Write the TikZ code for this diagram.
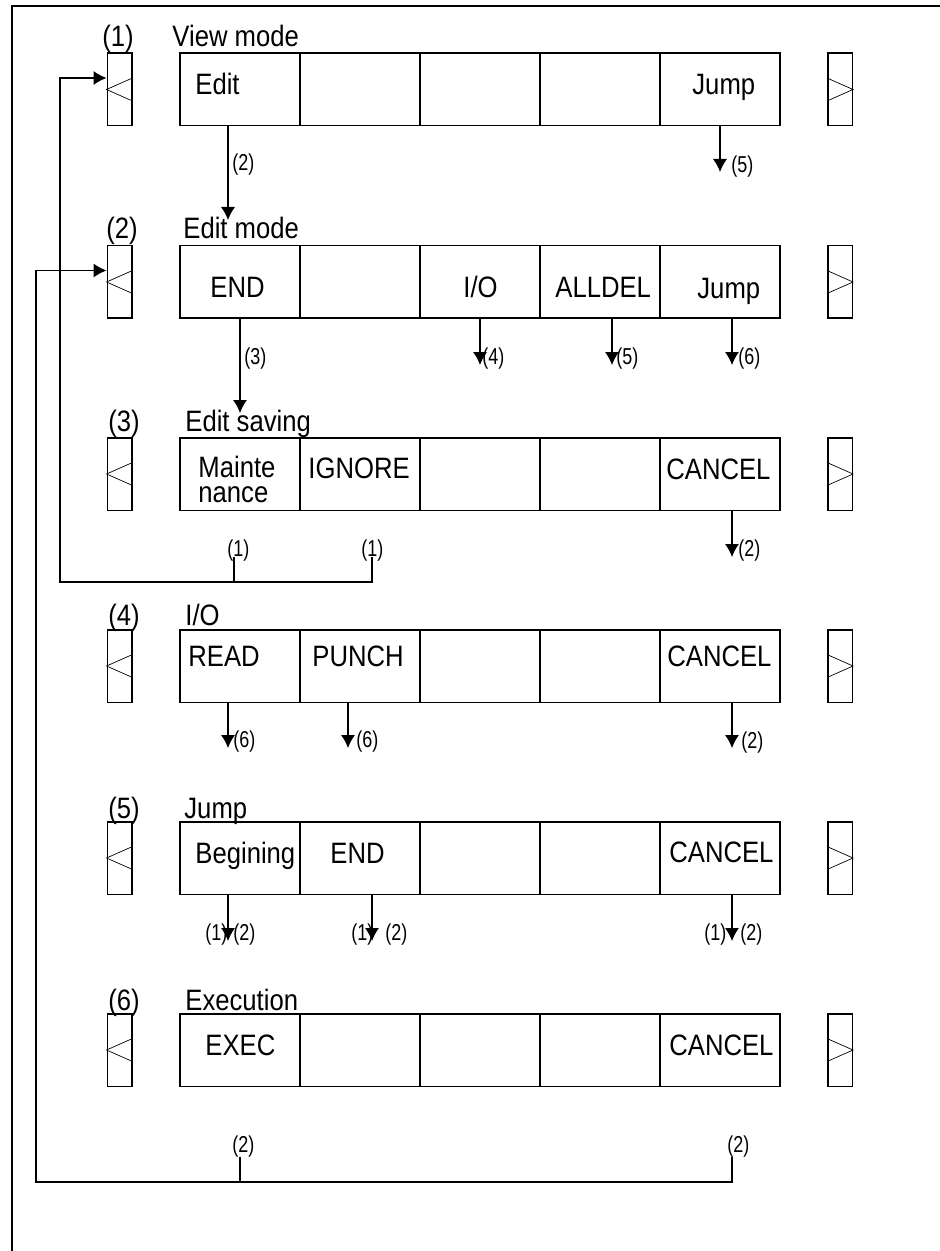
\documentclass[tikz,border=0pt]{standalone}
\usepackage{fontspec}
\setmainfont{Liberation Sans}
\newfontfamily\mainf{Liberation Sans}[FakeStretch=0.87]
\newfontfamily\smallf{Liberation Sans}[FakeStretch=0.78]
\usetikzlibrary{arrows.meta,calc}
\tikzset{
  cell/.style={draw,line width=0.75pt,minimum width=60pt,minimum height=36.25pt,inner sep=0pt},
  side/.style={draw,line width=0.75pt,minimum width=12.25pt,minimum height=36.25pt,inner sep=0pt},
  chev/.style={line width=0.35pt},
  frameline/.style={line width=0.7pt},
  conn/.style={line width=0.55pt},
  arr/.style={conn,-{Latex[length=6.5pt,width=7pt]}},
  txt/.style={font=\mainf\fontsize{14.75}{12.5}\selectfont,inner sep=0pt,anchor=base west,align=left},
  lbl/.style={font=\smallf\fontsize{11.5}{12}\selectfont,inner sep=0pt,anchor=west},
}
\begin{document}
\begin{tikzpicture}[x=0.5pt,y=-0.5pt]
\useasboundingbox (0,0) rectangle (939,1251);
\draw[frameline] (12,1270) -- (12,6) -- (960,6);

% rows of cells and side boxes
\foreach \r/\y in {1/89.5,2/282,3/474,4/666,5/858,6/1050} {
  \foreach \c in {1,...,5} {
    \node[cell] (c\r\c) at ({120*\c+120},\y) {};
  }
  \node[side] (L\r) at (119.5,\y) {};
  \node[side] (R\r) at (840,\y) {};
  \draw[chev] ($(L\r.east)+(0,-11.5)$) -- (L\r.west) -- ($(L\r.east)+(0,11.5)$);
  \draw[chev] ($(R\r.west)+(0,-11.5)$) -- (R\r.east) -- ($(R\r.west)+(0,11.5)$);
}

% titles
\node[txt] (n1) at (102,47) {(1)};
\node[txt] (h1) at (172,47) {View mode};
\node[txt] (n2) at (106,239) {(2)};
\node[txt] (h2) at (183,239) {Edit mode};
\node[txt] (n3) at (108,431) {(3)};
\node[txt] (h3) at (185,431) {Edit saving};
\node[txt] (n4) at (108,625) {(4)};
\node[txt] (h4) at (185,625) {I/O};
\node[txt] (n5) at (108,818) {(5)};
\node[txt] (h5) at (184,818) {Jump};
\node[txt] (n6) at (108,1010) {(6)};
\node[txt] (h6) at (185,1010) {Execution};

% cell texts
\node[txt] (x11) at (195,95) {Edit};
\node[txt] (x15) at (692,95) {Jump};
\node[txt] (x21) at (210,298) {END};
\node[txt] (x23) at (463,298) {I/O};
\node[txt] (x24) at (555,298) {ALLDEL};
\node[txt] (x25) at (697,299) {Jump};
\node[txt] (x31) at (198,502) {Mainte\\nance};
\node[txt] (x32) at (308,478) {IGNORE};
\node[txt] (x35) at (666,479) {CANCEL};
\node[txt] (x41) at (188,666) {READ};
\node[txt] (x42) at (312,666) {PUNCH};
\node[txt] (x45) at (667,666) {CANCEL};
\node[txt] (x51) at (195,863) {Begining};
\node[txt] (x52) at (330,863) {END};
\node[txt] (x55) at (669,862) {CANCEL};
\node[txt] (x61) at (205,1055) {EXEC};
\node[txt] (x65) at (669,1055) {CANCEL};

% arrow end points
\coordinate (e11) at (228,220);
\coordinate (e15) at (720,172);
\coordinate (e21) at (240,413);
\coordinate (e23) at (480,365);
\coordinate (e24) at (612,365);
\coordinate (e25) at (732,365);
\coordinate (e35) at (732,557);
\coordinate (e41) at (228,748);
\coordinate (e42) at (348,748);
\coordinate (e45) at (732,748);
\coordinate (e51) at (228,941);
\coordinate (e52) at (372,941);
\coordinate (e55) at (732,941);

\draw[arr] (c11.south -| e11) -- (e11);
\draw[arr] (c15.south -| e15) -- (e15);
\draw[arr] (c21.south -| e21) -- (e21);
\draw[arr] (c23.south -| e23) -- (e23);
\draw[arr] (c24.south -| e24) -- (e24);
\draw[arr] (c25.south -| e25) -- (e25);
\draw[arr] (c35.south -| e35) -- (e35);
\draw[arr] (c41.south -| e41) -- (e41);
\draw[arr] (c42.south -| e42) -- (e42);
\draw[arr] (c45.south -| e45) -- (e45);
\draw[arr] (c51.south -| e51) -- (e51);
\draw[arr] (c52.south -| e52) -- (e52);
\draw[arr] (c55.south -| e55) -- (e55);

% arrow labels
\node[lbl] (a11) at (232,165) {(2)};
\node[lbl] (a15) at (731,167) {(5)};
\node[lbl] (a21) at (244,359) {(3)};
\node[lbl] (a23) at (482,359) {(4)};
\node[lbl] (a24) at (616,359) {(5)};
\node[lbl] (a25) at (738,359) {(6)};
\node[lbl] (a35) at (738,551) {(2)};
\node[lbl] (a41) at (233,742) {(6)};
\node[lbl] (a42) at (356,742) {(6)};
\node[lbl] (a45) at (741,743) {(2)};
\node[lbl] (b51) at (205,935) {(1)};
\node[lbl] (a51) at (233,935) {(2)};
\node[lbl] (b52) at (351,935) {(1)};
\node[lbl] (a52) at (385,935) {(2)};
\node[lbl] (b55) at (704,935) {(1)};
\node[lbl] (a55) at (740,935) {(2)};

% return to (1)
\coordinate (k3a) at (234,557);
\coordinate (k3b) at (372,557);
\coordinate (j3) at (60,582);
\draw[conn] (k3a) -- (k3a |- j3);
\draw[arr] (k3b) |- (j3) |- ($(L1.west)+(0,-11.5)$);
\node[lbl] (r3a) at (227,551) {(1)};
\node[lbl] (r3b) at (361,551) {(1)};

% return to (2)
\coordinate (k6a) at (240,1157);
\coordinate (k6b) at (732,1157);
\coordinate (j6) at (36,1182);
\draw[conn] (k6a) -- (k6a |- j6);
\draw[arr] (k6b) |- (j6) |- ($(L2.west)+(0,-11.5)$);
\node[lbl] (r6a) at (232,1147) {(2)};
\node[lbl] (r6b) at (727,1147) {(2)};
\end{tikzpicture}
\end{document}
